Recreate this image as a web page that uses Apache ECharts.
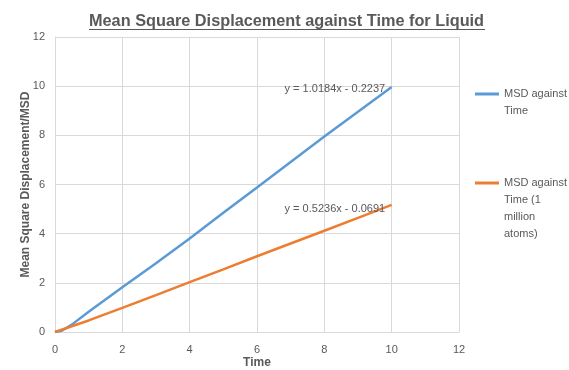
<!DOCTYPE html>
<html>
<head>
<meta charset="utf-8">
<script src="https://cdn.jsdelivr.net/npm/echarts@6/dist/echarts.min.js"></script>
<style>
  html, body { margin: 0; padding: 0; background: #fff; }
  #main { width: 569px; height: 370px; }
</style>
</head>
<body>
<div id="main"></div>
<script>
// values
var timeA = [0, 0.2, 0.5, 1, 1.5, 2, 3, 4, 5, 6, 7, 8, 9, 10];
var msdA = [0, 0.05, 0.3, 0.82, 1.32, 1.82, 2.8, 3.8, 4.85, 5.88, 6.92, 7.95, 8.96, 9.97];
var timeB = [0, 1, 2, 3, 4, 5, 6, 7, 8, 9, 10];
var msdB = [0, 0.47, 0.98, 1.5, 2.03, 2.55, 3.08, 3.6, 4.12, 4.64, 5.17];
var seriesNames = ['MSD against\nTime', 'MSD against\nTime (1\nmillion\natoms)'];
var trendLabels = ['y = 1.0184x - 0.2237', 'y = 0.5236x - 0.0691'];
var axisTicks = [0, 2, 4, 6, 8, 10, 12];

var font = 'Liberation Sans';
var grey = '#595959';
var lineH = 17;

function pairs(xs, ys) {
  return xs.map(function (x, i) { return [x, ys[i]]; });
}

// one legend per series; blank lines in front keep the first text line level with the icon
function legendFor(name, firstLineY) {
  var n = name.split('\n').length;
  var blank = new Array(n).join('\n');
  return {
    orient: 'vertical',
    left: 475,
    top: firstLineY - (2 * n - 1) * lineH / 2,
    padding: 0,
    itemWidth: 24,
    itemHeight: 3,
    icon: 'rect',
    selectedMode: false,
    formatter: function (s) { return blank + s; },
    textStyle: { fontFamily: font, fontSize: 11, color: grey, lineHeight: lineH },
    data: [name]
  };
}

var myChart = echarts.init(document.getElementById('main'));
myChart.setOption({
  animation: false,
  title: {
    text: 'Mean Square Displacement against Time for Liquid',
    left: 84,
    top: 9,
    textStyle: { fontFamily: font, fontSize: 16.3, fontWeight: 'bold', color: grey }
  },
  graphic: [{
    type: 'line',
    shape: { x1: 89, y1: 29.5, x2: 485, y2: 29.5 },
    style: { stroke: grey, lineWidth: 1 }
  }],
  grid: { left: 55, right: 110, top: 37, bottom: 38, outerBoundsMode: 'none' },
  legend: [legendFor(seriesNames[0], 94), legendFor(seriesNames[1], 183)],
  xAxis: {
    type: 'value',
    min: axisTicks[0],
    max: axisTicks[axisTicks.length - 1],
    interval: 2,
    name: 'Time',
    nameLocation: 'middle',
    nameGap: 25,
    nameMoveOverlap: false,
    nameTextStyle: { fontFamily: font, fontSize: 12, fontWeight: 'bold', color: grey },
    axisLine: { lineStyle: { color: '#d9d9d9' } },
    axisTick: { show: false },
    axisLabel: { fontFamily: font, fontSize: 11, color: grey, margin: 12 },
    splitLine: { lineStyle: { color: '#d9d9d9' } }
  },
  yAxis: {
    type: 'value',
    min: axisTicks[0],
    max: axisTicks[axisTicks.length - 1],
    interval: 2,
    name: 'Mean Square Displacement/MSD',
    nameLocation: 'middle',
    nameGap: 23,
    nameMoveOverlap: false,
    nameTextStyle: { fontFamily: font, fontSize: 12, fontWeight: 'bold', color: grey },
    axisLine: { show: true, lineStyle: { color: '#d9d9d9' } },
    axisTick: { show: false },
    axisLabel: { fontFamily: font, fontSize: 11, color: grey, margin: 10 },
    splitLine: { lineStyle: { color: '#d9d9d9' } }
  },
  series: [
    {
      name: seriesNames[0],
      type: 'line',
      data: pairs(timeA, msdA),
      showSymbol: false,
      lineStyle: { color: '#5B9BD5', width: 2.5 },
      itemStyle: { color: '#5B9BD5' },
      markPoint: {
        symbol: 'circle',
        symbolSize: 1,
        itemStyle: { color: 'rgba(0,0,0,0)' },
        data: [{ name: trendLabels[0], coord: [timeA[timeA.length - 1], msdA[msdA.length - 1]] }],
        label: {
          show: true, position: 'left', distance: 6, offset: [0, 2],
          formatter: function (p) { return p.name; },
          fontFamily: font, fontSize: 11, color: grey
        }
      }
    },
    {
      name: seriesNames[1],
      type: 'line',
      data: pairs(timeB, msdB),
      showSymbol: false,
      lineStyle: { color: '#ED7D31', width: 2.5 },
      itemStyle: { color: '#ED7D31' },
      markPoint: {
        symbol: 'circle',
        symbolSize: 1,
        itemStyle: { color: 'rgba(0,0,0,0)' },
        data: [{ name: trendLabels[1], coord: [timeB[timeB.length - 1], msdB[msdB.length - 1]] }],
        label: {
          show: true, position: 'left', distance: 6, offset: [0, 4],
          formatter: function (p) { return p.name; },
          fontFamily: font, fontSize: 11, color: grey
        }
      }
    }
  ]
});
</script>
</body>
</html>
